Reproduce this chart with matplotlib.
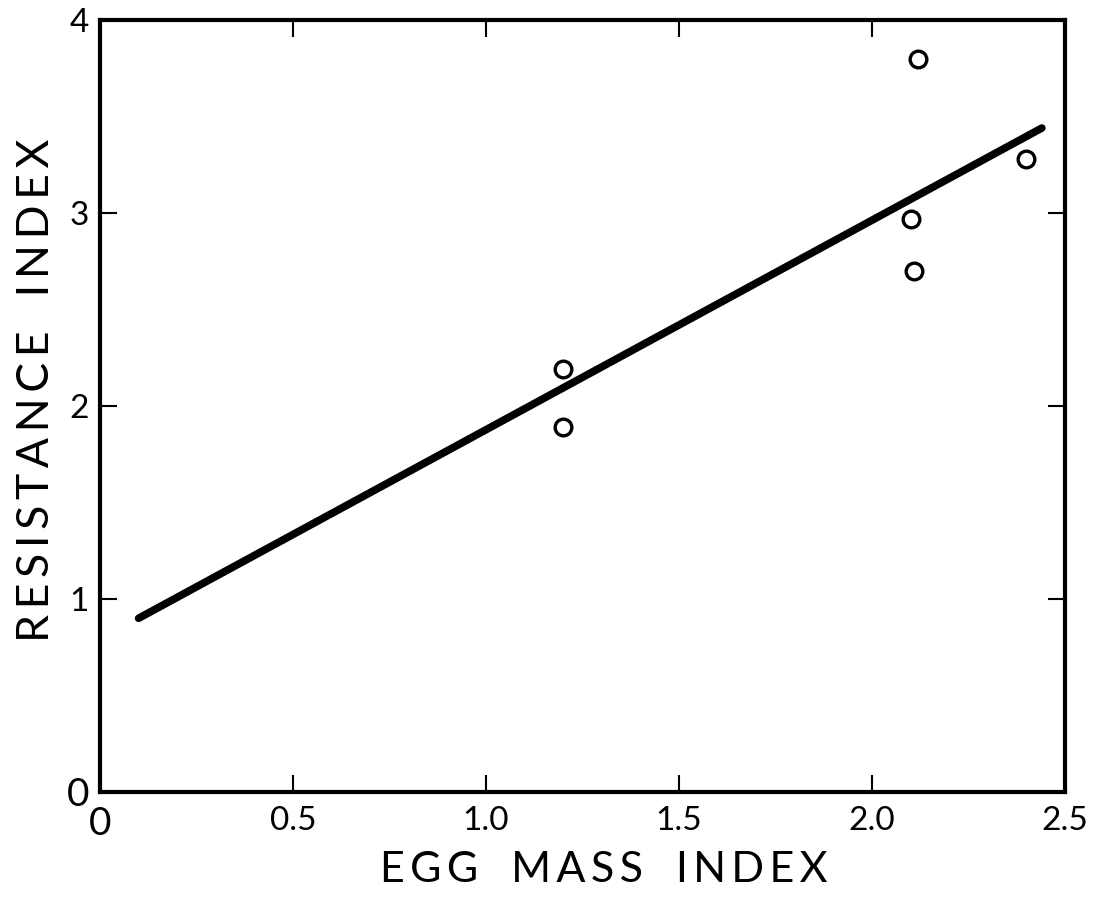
import numpy as np
import matplotlib
matplotlib.use('Agg')
import matplotlib.pyplot as plt

# data
egg_mass = [1.20, 1.20, 2.10, 2.11, 2.12, 2.40]
resistance = [2.19, 1.89, 2.97, 2.70, 3.80, 3.28]

# regression line end points
line_x = [0.10, 2.44]
line_y = [0.90, 3.44]

x_ticks = [0, 0.5, 1.0, 1.5, 2.0, 2.5]
x_tick_labels = ['0', '0.5', '1.0', '1.5', '2.0', '2.5']
y_ticks = [0, 1, 2, 3, 4]
y_tick_labels = ['0', '1', '2', '3', '4']

plt.rcParams['font.family'] = ['Lato', 'DejaVu Sans']

fig = plt.figure(figsize=(10.94, 9.07), dpi=100)
ax = fig.add_axes([0.0914, 0.1268, 0.8821, 0.8512])

ax.plot(line_x, line_y, color='black', linewidth=5.5, solid_capstyle='round')
ax.plot(egg_mass, resistance, 'o', markersize=12, markerfacecolor='white',
        markeredgecolor='black', markeredgewidth=2.4, linestyle='none')

ax.set_xlim(0, 2.5)
ax.set_ylim(0, 4)
ax.set_xticks(x_ticks)
ax.set_xticklabels(x_tick_labels)
ax.set_yticks(y_ticks)
ax.set_yticklabels(y_tick_labels)

ax.tick_params(direction='in', length=12, width=1.5, top=True, right=True,
               labelsize=24)
ax.tick_params(axis='x', pad=10)
ax.tick_params(axis='y', pad=8)
for s in ax.spines.values():
    s.set_linewidth(3)

# the zeros are drawn a bit larger in the original
ax.get_xticklabels()[0].set_fontsize(28)
ax.get_yticklabels()[0].set_fontsize(28)

ts = '\u2009'
xlab = ts.join('EGG') + '   ' + ts.join('MASS') + '   ' + ts.join('INDEX')
ylab = ts.join('RESISTANCE') + '   ' + ts.join('INDEX')
ax.set_xlabel(xlab, fontsize=31)
ax.set_ylabel(ylab, fontsize=32)
ax.xaxis.set_label_coords(0.522, -0.076)
ax.yaxis.set_label_coords(-0.045, 0.52)

fig.savefig('out.png', dpi=100)
